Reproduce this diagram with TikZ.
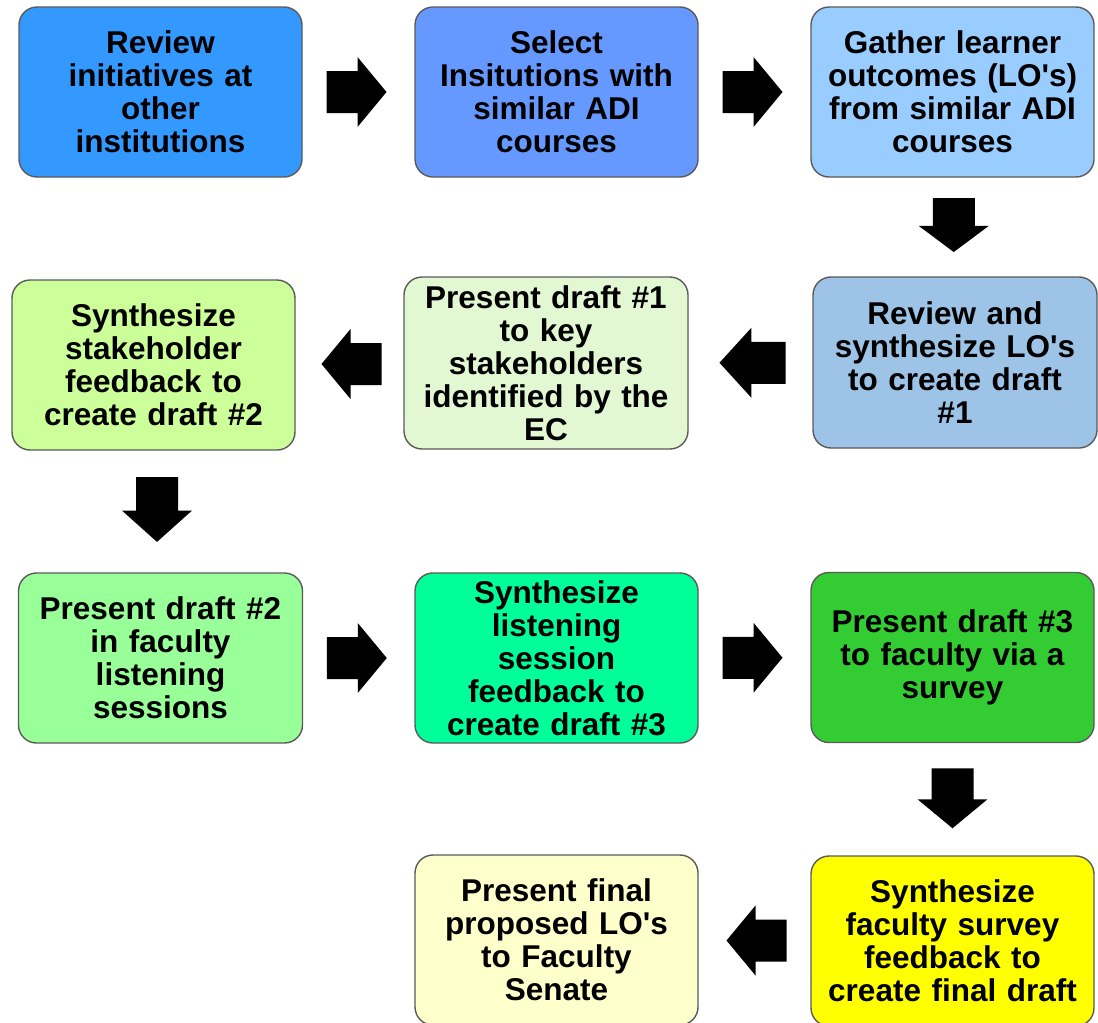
\documentclass[tikz,border=0pt]{standalone}
\usepackage{fontspec}
\setmainfont{Liberation Sans}[Ligatures=TeXOff]
\usetikzlibrary{calc}
\definecolor{c1}{HTML}{3399FF}
\definecolor{c2}{HTML}{6699FF}
\definecolor{c3}{HTML}{99CCFF}
\definecolor{c4}{HTML}{9DC3E6}
\definecolor{c5}{HTML}{E2F8D2}
\definecolor{c6}{HTML}{CCFF99}
\definecolor{c7}{HTML}{99FF99}
\definecolor{c8}{HTML}{00FF99}
\definecolor{c9}{HTML}{33CC33}
\definecolor{c10}{HTML}{FFFFCC}
\definecolor{c11}{HTML}{FFFF00}
\definecolor{edge}{HTML}{5A5A5A}
\tikzset{
  box/.style={draw=edge, line width=1.4pt, rounded corners=18pt,
    minimum width=283pt, minimum height=170pt, inner sep=0pt,
    text width=278pt, align=center,
    font=\bfseries\fontsize{31.5}{33}\selectfont},
  blockarrow/.pic={\fill[black] (-30,-21) -- (1,-21) -- (1,-35) -- (30,0) -- (1,35) -- (1,21) -- (-30,21) -- cycle;}
}
\begin{document}
\begin{tikzpicture}[x=1pt,y=-1pt]
\useasboundingbox (0,0) rectangle (1098,1023);
\clip (0,0) rectangle (1098,1023);
% row 1
\node[box, fill=c1] (b1) at (160.5,92) {Review\\initiatives at\\other\\institutions};
\node[box, fill=c2] (b2) at (556.5,92) {Select\\Insitutions with\\similar ADI\\courses};
\node[box, fill=c3] (b3) at (952.5,92) {Gather learner\\outcomes (LO's)\\from similar ADI\\courses};
% row 2
\node[box, fill=c4, minimum width=284pt, minimum height=171pt] (b4) at (955,362.5) {Review and\\synthesize LO's\\to create draft\\\#1};
\node[box, fill=c5, minimum width=284pt, minimum height=172pt] (b5) at (546,363) {Present draft \#1\\to key\\stakeholders\\identified by the\\EC};
\node[box, fill=c6] (b6) at (153.5,365) {Synthesize\\stakeholder\\feedback to\\create draft \#2};
% row 3
\node[box, fill=c7, minimum width=284pt] (b7) at (160.5,658) {Present draft \#2\\in faculty\\listening\\sessions};
\node[box, fill=c8] (b8) at (556.5,658) {Synthesize\\listening\\session\\feedback to\\create draft \#3};
\node[box, fill=c9] (b9) at (952.5,657.5) {Present draft \#3\\to faculty via a\\survey};
% row 4
\node[box, fill=c10] (b10) at (556.5,940) {Present final\\proposed LO's\\to Faculty\\Senate};
\node[box, fill=c11] (b11) at (952.5,941) {Synthesize\\faculty survey\\feedback to\\create final draft};
% block arrows
\pic at ($(b1.east)!0.5!(b2.west)+(-2,0)$) {blockarrow};
\pic at ($(b2.east)!0.5!(b3.west)+(-2,0)$) {blockarrow};
\pic[rotate=-90, xscale=0.9] at ($(b3.south)!0.5!(b4.north)+(0,-2)$) {blockarrow};
\pic[rotate=180, xscale=1.1] at ($(b4.west)!0.5!(b5.east)+(2,0)$) {blockarrow};
\pic[rotate=180] at ($(b5.west)!0.5!(b6.east)+(2,0)$) {blockarrow};
\pic[rotate=-90, xscale=1.08] at ($(b6.south)!0.5!(b7.north)+(0,-2)$) {blockarrow};
\pic at ($(b7.east)!0.5!(b8.west)+(-2,0)$) {blockarrow};
\pic at ($(b8.east)!0.5!(b9.west)+(-2,0)$) {blockarrow};
\pic[rotate=-90] at ($(b9.south)!0.5!(b11.north)+(0,-1)$) {blockarrow};
\pic[rotate=180] at ($(b11.west)!0.5!(b10.east)+(2,0)$) {blockarrow};
\end{tikzpicture}
\end{document}
